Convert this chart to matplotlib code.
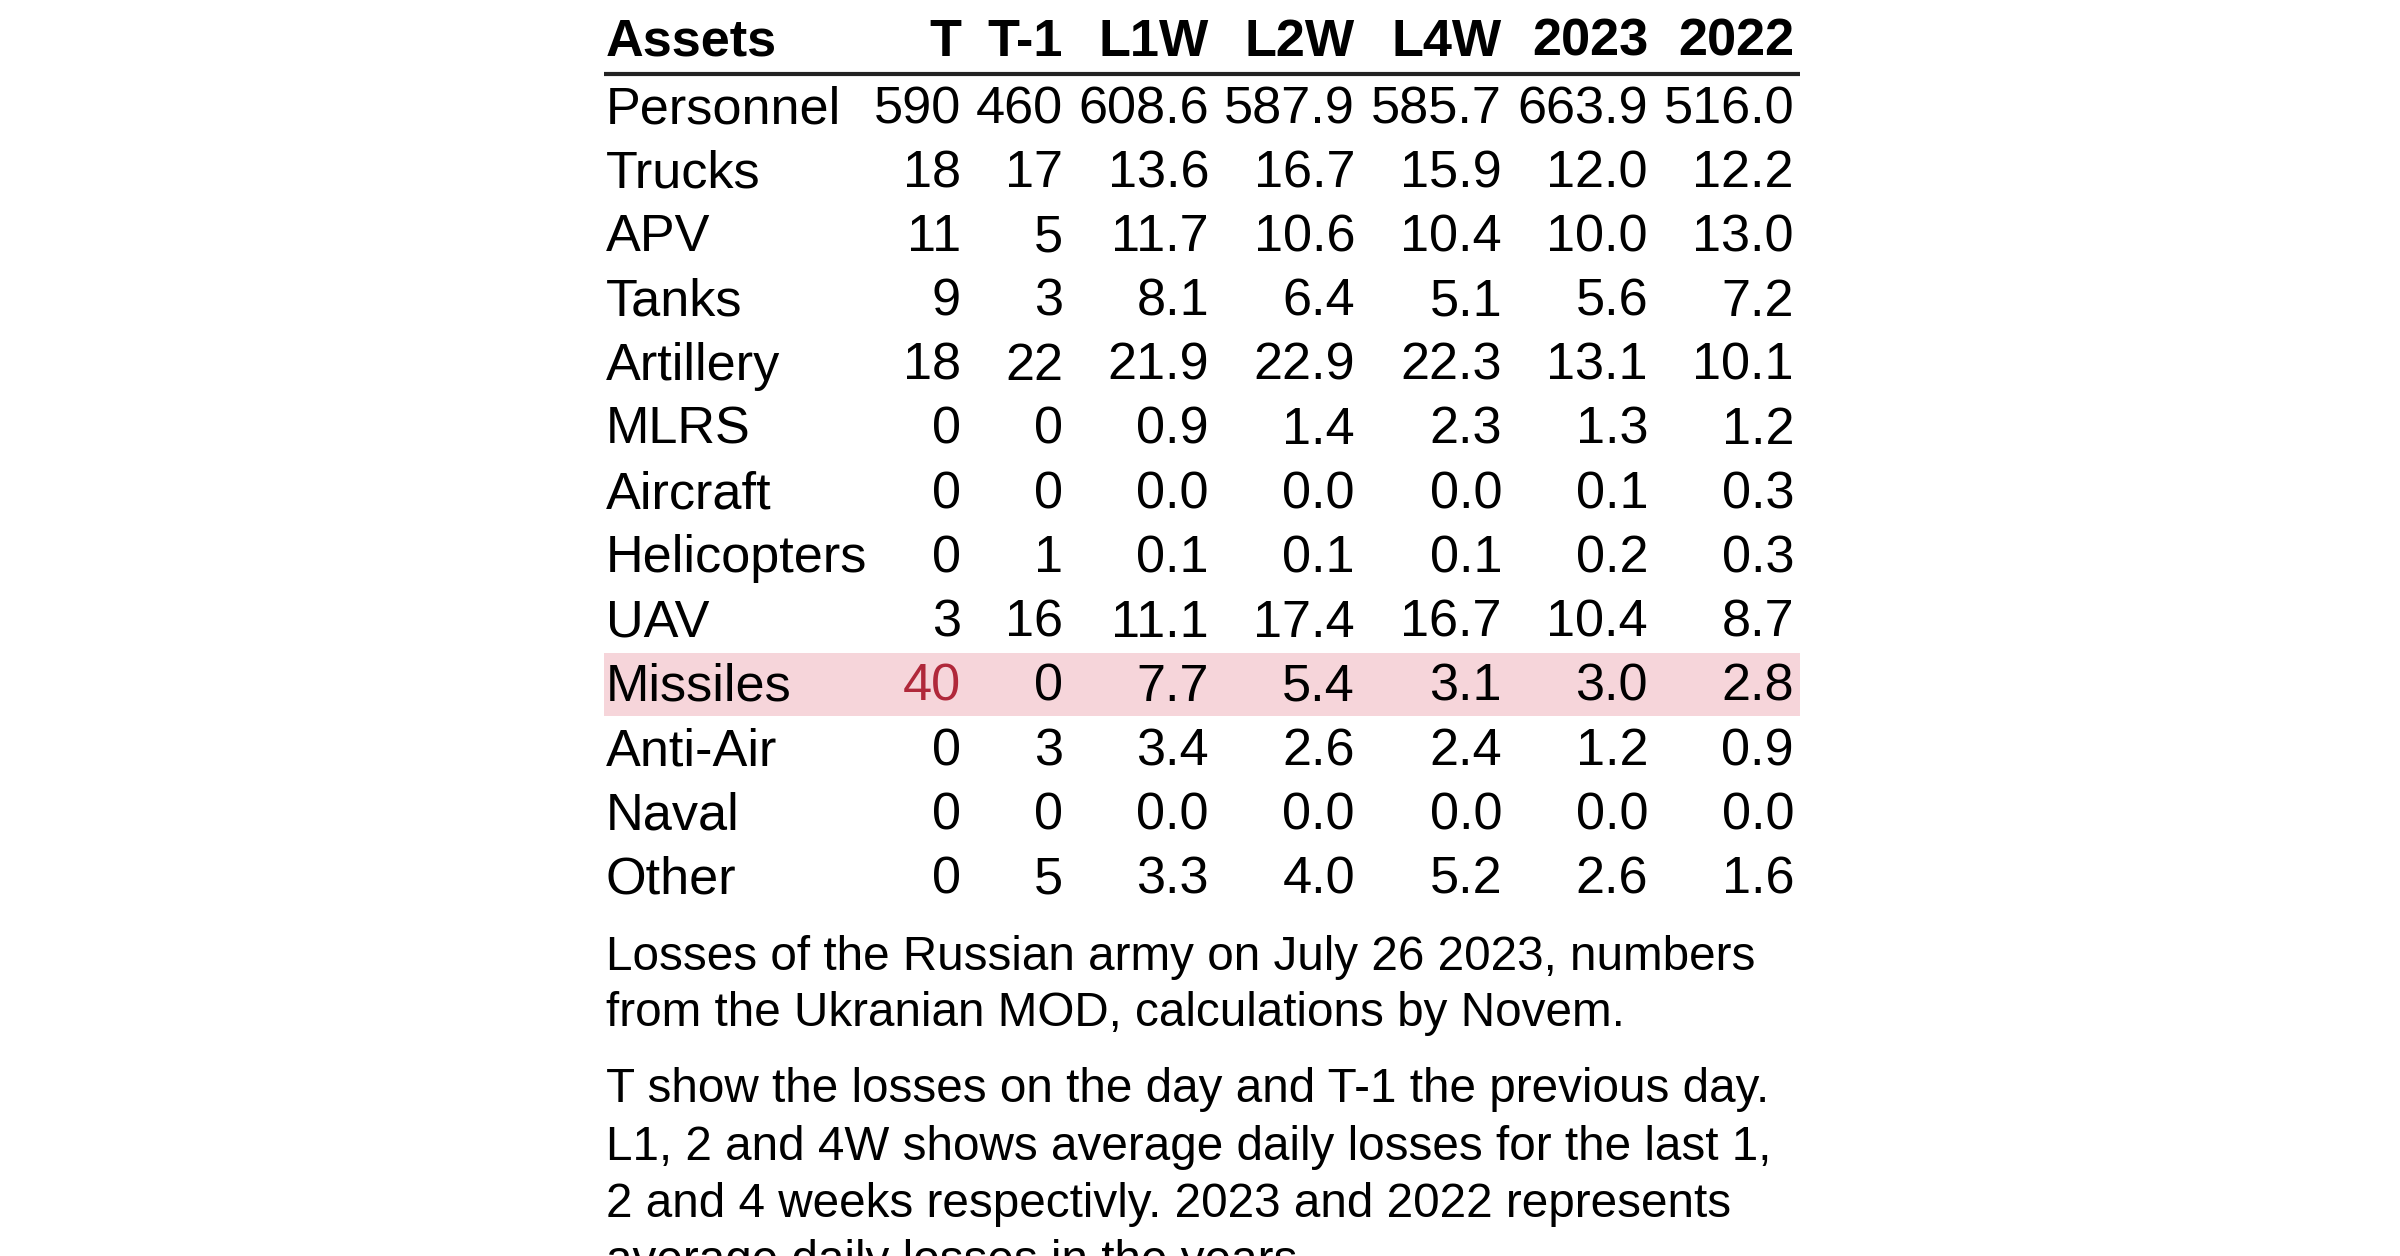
import matplotlib.pyplot as plt
from matplotlib.patches import Rectangle

plt.rcParams["font.family"] = ["Liberation Sans", "DejaVu Sans"]

# table data
assets = ["Personnel", "Trucks", "APV", "Tanks", "Artillery", "MLRS", "Aircraft",
          "Helicopters", "UAV", "Missiles", "Anti-Air", "Naval", "Other"]
columns = ["T", "T-1", "L1W", "L2W", "L4W", "2023", "2022"]

t_day = [590, 18, 11, 9, 18, 0, 0, 0, 3, 40, 0, 0, 0]
t_prev = [460, 17, 5, 3, 22, 0, 0, 1, 16, 0, 3, 0, 5]
l1w = [608.6, 13.6, 11.7, 8.1, 21.9, 0.9, 0.0, 0.1, 11.1, 7.7, 3.4, 0.0, 3.3]
l2w = [587.9, 16.7, 10.6, 6.4, 22.9, 1.4, 0.0, 0.1, 17.4, 5.4, 2.6, 0.0, 4.0]
l4w = [585.7, 15.9, 10.4, 5.1, 22.3, 2.3, 0.0, 0.1, 16.7, 3.1, 2.4, 0.0, 5.2]
avg_2023 = [663.9, 12.0, 10.0, 5.6, 13.1, 1.3, 0.1, 0.2, 10.4, 3.0, 1.2, 0.0, 2.6]
avg_2022 = [516.0, 12.2, 13.0, 7.2, 10.1, 1.2, 0.3, 0.3, 8.7, 2.8, 0.9, 0.0, 1.6]

highlight_row = "Missiles"

caption1 = ["Losses of the Russian army on July 26 2023, numbers",
            "from the Ukranian MOD, calculations by Novem."]
caption2 = ["T show the losses on the day and T-1 the previous day.",
            "L1, 2 and 4W shows average daily losses for the last 1,",
            "2 and 4 weeks respectivly. 2023 and 2022 represents",
            "average daily losses in the years."]

W, H = 2400, 1256
fig = plt.figure(figsize=(24, 12.56), dpi=100)
ax = fig.add_axes([0, 0, 1, 1])
ax.set_xlim(0, W)
ax.set_ylim(H, 0)
ax.axis("off")

left = 606
right = 1800
col_right = [961, 1063, 1209, 1355, 1502, 1648, 1794]
fs = 37.6
red = "#b0283a"

# header
ax.text(left, 56, "Assets", fontsize=fs, fontweight="bold", va="baseline", ha="left")
for c, x in zip(columns, col_right):
    ax.text(x, 56, c, fontsize=fs, fontweight="bold", va="baseline", ha="right")
ax.plot([604, right], [74, 74], color="#222222", lw=3, solid_capstyle="butt")

values = [t_day, t_prev, l1w, l2w, l4w, avg_2023, avg_2022]
row_h = 64.2
for i, name in enumerate(assets):
    base = 123 + i * row_h
    if name == highlight_row:
        ax.add_patch(Rectangle((604, base - 48), right - 604, row_h - 1,
                               color="#f6d5da", lw=0, zorder=0))
    ax.text(left, base, name, fontsize=fs, va="baseline", ha="left")
    for j, (col, x) in enumerate(zip(values, col_right)):
        v = col[i]
        txt = str(v) if j < 2 else "%.1f" % v
        color = "black"
        if name == highlight_row and j == 0:
            color = red
        ax.text(x, base, txt, fontsize=fs, va="baseline", ha="right", color=color)

# caption
cfs = 34.3
for k, line in enumerate(caption1):
    ax.text(left, 970 + k * 56, line, fontsize=cfs, va="baseline", ha="left")
for k, line in enumerate(caption2):
    ax.text(left, 1102 + k * 57.5, line, fontsize=cfs, va="baseline", ha="left")

fig.savefig("out.png", dpi=100)
